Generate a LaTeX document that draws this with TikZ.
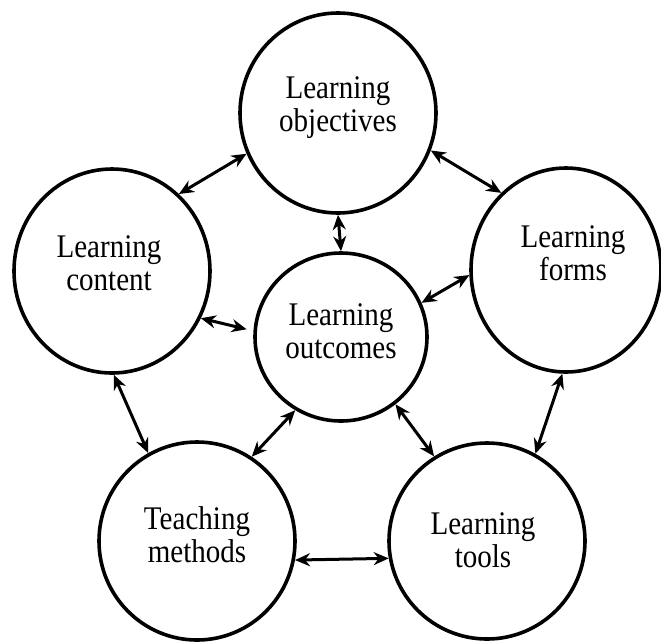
\documentclass[tikz,border=0pt]{standalone}
\usepackage{fontspec}
\setmainfont{Liberation Serif}[FakeStretch=0.88]
\usetikzlibrary{arrows.meta,shapes.geometric}

\tikzset{
	topic/.style={ellipse, draw, line width=3.6pt, inner sep=0pt},
	every label/.style={align=center, font=\fontsize{33}{33}\selectfont},
	link/.style={{Stealth[length=15pt,width=13pt]}-{Stealth[length=15pt,width=13pt]}, line width=3pt}
}

\begin{document}
\begin{tikzpicture}[x=1pt,y=1pt]

	\useasboundingbox (0,0) rectangle (661,-641);

	% the six circles
	\node[topic, minimum width=196pt, minimum height=200pt,
		label={[yshift=5pt]center:Learning\\objectives}] (obj) at (338,-113) {};
	\node[topic, minimum width=196pt, minimum height=204pt,
		label={[xshift=-3pt,yshift=8pt]center:Learning\\content}] (cont) at (112,-271) {};
	\node[topic, minimum width=190pt, minimum height=204pt,
		label={[xshift=7pt,yshift=17pt]center:Learning\\forms}] (forms) at (566,-270) {};
	\node[topic, minimum width=172pt, minimum height=168pt,
		label={[yshift=6pt]center:Learning\\outcomes}] (out) at (341,-337) {};
	\node[topic, minimum width=196pt, minimum height=198pt,
		label={[yshift=6pt]center:Teaching\\methods}] (meth) at (197,-541) {};
	\node[topic, minimum width=196pt, minimum height=196pt,
		label={[xshift=-4pt,yshift=1pt]center:Learning\\tools}] (tools) at (487,-541) {};

	% links
	\draw[link] (obj.204) -- (cont.49);
	\draw[link] (obj.338) -- (forms.130);
	\draw[link] (obj.270) -- (out.90);
	\draw[link, shorten >=7pt] (cont.332) -- (out.176);
	\draw[link] (forms.183) -- (out.23);
	\draw[link] (cont.271) -- (meth.119);
	\draw[link] (forms.268) -- (tools.61);
	\draw[link] (out.238) -- (meth.57);
	\draw[link] (out.309) -- (tools.122);
	\draw[link] (meth.349) -- (tools.190);

\end{tikzpicture}
\end{document}
